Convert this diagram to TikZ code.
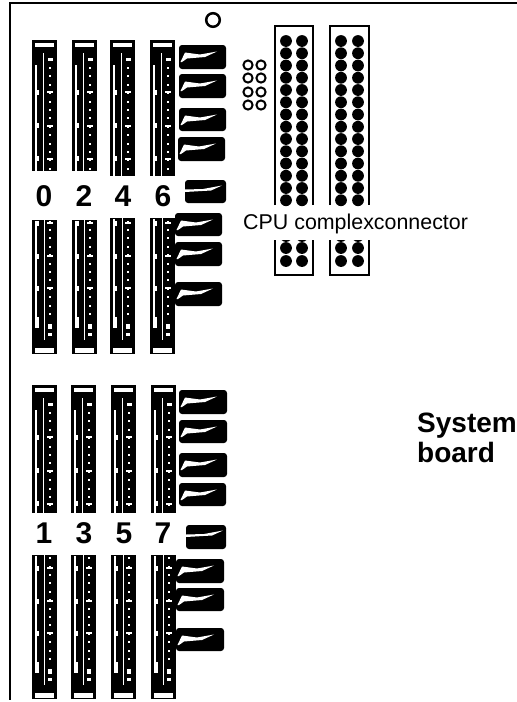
\documentclass[tikz,border=0pt]{standalone}
\usepackage{fontspec}
\setmainfont{Liberation Sans}
\tikzset{
  blk/.style={fill=black,draw=none},
  wht/.style={fill=white,draw=none},
  frameline/.style={draw=black,line width=2.2pt},
  boxline/.style={draw=black,line width=1.7pt},
  pin/.style={fill=black,draw=none},
  ring/.style={draw=black,line width=2pt,fill=white},
  digit/.style={font=\bfseries\fontsize{30}{30}\selectfont,inner sep=0pt,anchor=base},
  boldlabel/.style={font=\bfseries\fontsize{28}{28}\selectfont,inner sep=0pt,anchor=base west},
  cpulabel/.style={font=\fontsize{21.4}{22}\selectfont,inner sep=0pt,anchor=base west}
}
% upper half of a memory slot: x, top, bottom
\newcommand{\slotupper}[3]{%
  \begin{scope}[shift={(#1,0)}]
    \fill[blk] (0,#2) rectangle (25,#3);
    \fill[wht] (2.5,#2+3) rectangle (21.5,#2+7);
    \fill[wht] (11.2,#2+13) rectangle (12,#3);
    \fill[wht] (2.5,#2+25) rectangle (4.6,#3);
    \foreach \d in {52,85,118}{\fill[wht] (2.5,#2+\d-2.5) rectangle (7,#2+\d+2.5);}
    \begin{scope}
      \clip (0,#2) rectangle (25,#3-1);
      \fill[wht] (15.5,#2+17.5) rectangle (20.5,#2+20.5);
      \foreach \i in {0,...,14}{\fill[wht] (17,#2+27+\i*8.4) rectangle (19,#2+29+\i*8.4);}
      \foreach \d in {52,86,119}{\fill[wht] (15,#2+\d-1) rectangle (20.5,#2+\d+1);}
    \end{scope}
  \end{scope}}
% lower half of a memory slot: x, top, bottom
\newcommand{\slotlower}[3]{%
  \begin{scope}[shift={(#1,0)}]
    \fill[blk] (0,#2) rectangle (25,#3);
    \fill[wht] (2.5,#3-6.5) rectangle (22,#3-1.5);
    \fill[wht] (11.5,#2) rectangle (12.3,#3-14);
    \fill[wht] (2.5,#2+1) rectangle (4.6,#3-26);
    \fill[wht] (2.5,#3-37) rectangle (7,#3-26);
    \begin{scope}
      \clip (0,#2+1) rectangle (25,#3);
      \foreach \d in {-131,-98,-66}{\fill[wht] (2.5,#3+\d-2.5) rectangle (7,#3+\d+2.5);}
      \foreach \i in {0,...,13}{\fill[wht] (17,#3-41-\i*8.4) rectangle (19,#3-39-\i*8.4);}
      \foreach \d in {-131,-98,-66}{\fill[wht] (15,#3+\d-1) rectangle (20.5,#3+\d+1);}
      \fill[wht] (15.5,#3-30) rectangle (20,#3-25);
      \fill[wht] (16,#3-21) rectangle (20,#3-18);
    \end{scope}
  \end{scope}}
% module with highlight: x1, y1, x2, y2
\newcommand{\modul}[4]{%
  \fill[blk,rounded corners=3pt] (#1,#2) rectangle (#3,#4);
  \fill[wht] (#1+1.5,#2+17) -- (#1+6,#2+7.5) -- (#1+21,#2+9.5) -- (#1+38,#2+6.5)
     -- (#1+26,#2+12) -- (#1+8,#2+13.5) -- (#1+3,#2+17) -- cycle;}
% narrow module: x1, y1, x2, y2
\newcommand{\modulb}[4]{%
  \fill[blk,rounded corners=3pt] (#1,#2) rectangle (#3,#4);
  \fill[wht] (#1,#2+9.5) -- (#1+18,#2+9) -- (#1+37,#2+5.5) -- (#1+26,#2+10.5) -- (#1,#2+12) -- cycle;}
\begin{document}
\begin{tikzpicture}[x=1pt,y=-1pt]
\useasboundingbox (0,0) rectangle (517,702);
\path[fill=white] (0,0) rectangle (517,702);
% frame
\draw[frameline] (517,3) -- (10,3) -- (10,700);
\draw[ring,line width=2.5pt] (213,20) circle (6.8);
% slots, top bank
\slotupper{32}{40}{171}\slotupper{72}{40}{171}\slotupper{110}{40}{176}\slotupper{150}{40}{176}
\slotlower{32}{220}{354}\slotlower{72}{220}{354}\slotlower{110}{218}{354}\slotlower{150}{218}{354}
% slots, bottom bank
\slotupper{32}{385}{513}\slotupper{71}{385}{513}\slotupper{111}{385}{513}\slotupper{151}{385}{513}
\slotlower{32}{555}{699}\slotlower{71}{555}{699}\slotlower{111}{555}{699}\slotlower{151}{555}{699}
% modules, top bank
\modul{179}{45}{226}{69}\modul{179}{74}{226}{98}\modul{179}{108}{226}{131}\modul{178}{137}{225}{161}
\modulb{185}{180}{226}{203}
\modul{175}{213}{222}{236}\modul{175}{242}{222}{266}\modul{175}{282}{222}{306}
% modules, bottom bank
\modul{179}{390}{227}{414}\modul{179}{420}{227}{443}\modul{179}{453}{227}{477}\modul{179}{483}{226}{506}
\modulb{186}{525}{226}{549}
\modul{176}{559}{224}{583}\modul{176}{588}{224}{611}\modul{176}{628}{224}{651}
% digits
\node[digit] (d0) at (44,206) {0};
\node[digit] (d2) at (84,206) {2};
\node[digit] (d4) at (123,206) {4};
\node[digit] (d6) at (163,206) {6};
\node[digit] (d1) at (44,543) {1};
\node[digit] (d3) at (84,543) {3};
\node[digit] (d5) at (124,543) {5};
\node[digit] (d7) at (163,543) {7};
% small rings
\foreach \y in {65,78,92,105}{
  \draw[ring] (248,\y) circle (4.6);
  \draw[ring] (261,\y) circle (4.6);
}
% CPU connectors
\foreach \a/\b/\pa/\pb in {275/313/286/302,330/369/341/358}{
  \draw[boxline] (\a,205) -- (\a,26) -- (\b,26) -- (\b,205);
  \draw[boxline] (\a,240) -- (\a,275) -- (\b,275) -- (\b,240);
  \foreach \p in {\pa,\pb}{
    \foreach \i in {0,...,13}{\fill[pin] (\p,41+\i*12.25) circle (5.9);}
    \fill[pin] (\p,248) circle (5.9);
    \fill[pin] (\p,261) circle (5.9);
    \begin{scope}
      \clip (\p-6,240) rectangle (\p+6,243);
      \fill[pin] (\p,236) circle (5.9);
    \end{scope}
  }
}
% labels
\node[cpulabel] (cpu) at (243,229) {CPU complexconnector};
\node[boldlabel] (sys) at (417,432) {System};
\node[boldlabel] (brd) at (417,462) {board};
\end{tikzpicture}
\end{document}
